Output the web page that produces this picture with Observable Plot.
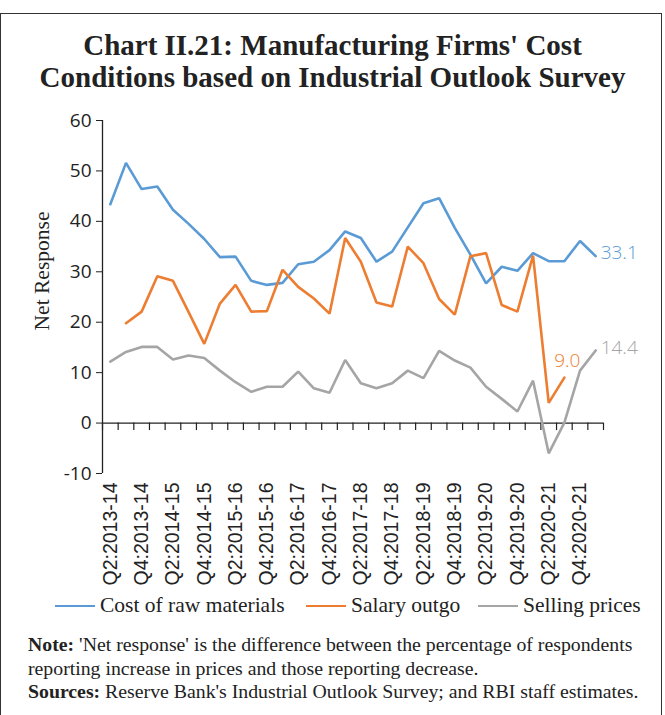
<!DOCTYPE html>
<html>
<head>
<meta charset="utf-8">
<script src="https://cdn.jsdelivr.net/npm/d3@7"></script>
<script src="https://cdn.jsdelivr.net/npm/@observablehq/plot@0.6"></script>
<style>
  html, body { margin: 0; padding: 0; background: #fff; }
  #wrap { position: relative; width: 665px; height: 715px; overflow: hidden; }
  #frame { position: absolute; left: 0; top: 13px; width: 662px; height: 760px; border: 1px solid #333; box-sizing: border-box; }
  #title { position: absolute; left: 0; top: 29px; width: 665px; text-align: center; font-family: "Liberation Serif", serif; font-weight: bold; font-size: 29px; line-height: 32px; color: #222; }
  #chart { position: absolute; left: 0; top: 100px; }
  #legend { position: absolute; top: 593px; left: 0; width: 665px; height: 24px; font-family: "Liberation Serif", serif; font-size: 21.5px; color: #222; }
  .li { position: absolute; top: 0; white-space: nowrap; line-height: 24px; }
  .sw { display: inline-block; width: 40px; height: 2.5px; vertical-align: middle; margin-right: 5px; position: relative; top: -1px; }
  #note { position: absolute; left: 28px; top: 633px; width: 635px; font-family: "Liberation Serif", serif; font-size: 19.8px; line-height: 23.5px; color: #222; white-space: nowrap; }
</style>
</head>
<body>
<div id="wrap">
  <div id="frame"></div>
  <div id="title">Chart II.21: Manufacturing Firms' Cost<br>Conditions based on Industrial Outlook Survey</div>
  <div id="chart"></div>
  <div id="legend"></div>
  <div id="note"><b>Note:</b> 'Net response' is the difference between the percentage of respondents<br>reporting increase in prices and those reporting decrease.<br><b>Sources:</b> Reserve Bank's Industrial Outlook Survey; and RBI staff estimates.</div>
</div>
<script>
const quarters = [
  "Q2:2013-14","Q3:2013-14","Q4:2013-14","Q1:2014-15","Q2:2014-15","Q3:2014-15","Q4:2014-15","Q1:2015-16",
  "Q2:2015-16","Q3:2015-16","Q4:2015-16","Q1:2016-17","Q2:2016-17","Q3:2016-17","Q4:2016-17","Q1:2017-18",
  "Q2:2017-18","Q3:2017-18","Q4:2017-18","Q1:2018-19","Q2:2018-19","Q3:2018-19","Q4:2018-19","Q1:2019-20",
  "Q2:2019-20","Q3:2019-20","Q4:2019-20","Q1:2020-21","Q2:2020-21","Q3:2020-21","Q4:2020-21","Q1:2021-22"
];
const tickLabels = [
  "Q2:2013-14","Q4:2013-14","Q2:2014-15","Q4:2014-15","Q2:2015-16","Q4:2015-16","Q2:2016-17","Q4:2016-17",
  "Q2:2017-18","Q4:2017-18","Q2:2018-19","Q4:2018-19","Q2:2019-20","Q4:2019-20","Q2:2020-21","Q4:2020-21"
];
const seriesNames = ["Cost of raw materials", "Salary outgo", "Selling prices"];
const seriesColors = ["#5B9BD5", "#ED7D31", "#A5A5A5"];
const rawMaterials = [43.4, 51.6, 46.4, 46.9, 42.3, 39.5, 36.5, 32.9, 33.0, 28.2, 27.4, 27.8, 31.5, 32.0, 34.3, 38.0,
  36.7, 32.0, 34.0, 38.8, 43.6, 44.6, 38.7, 33.4, 27.7, 31.0, 30.2, 33.7, 32.1, 32.1, 36.1, 33.1];
const salaryOutgo = [null, 19.8, 22.1, 29.1, 28.2, 22.0, 15.7, 23.7, 27.4, 22.1, 22.2, 30.4, 27.0, 24.7, 21.7, 36.7,
  32.0, 23.9, 23.1, 35.0, 31.7, 24.6, 21.5, 33.1, 33.7, 23.4, 22.1, 33.2, 4.0, 9.0, null, null];
const sellingPrices = [12.2, 14.1, 15.1, 15.1, 12.6, 13.4, 12.9, 10.4, 8.1, 6.2, 7.2, 7.2, 10.2, 6.9, 6.0, 12.5,
  7.9, 6.9, 7.9, 10.4, 8.9, 14.3, 12.4, 11.0, 7.2, 4.8, 2.3, 8.4, -6.0, 0.1, 10.4, 14.4];
const endLabels = ["33.1", "9.0", "14.4"];
const yTicks = [-10, 0, 10, 20, 30, 40, 50, 60];

const seriesValues = [rawMaterials, salaryOutgo, sellingPrices];
const rows = [];
seriesNames.forEach((s, k) => seriesValues[k].forEach((v, i) => rows.push({series: s, i, value: v})));
const lastPts = seriesNames.map((s, k) => {
  const vals = seriesValues[k];
  let i = vals.length - 1;
  while (vals[i] == null) i--;
  return {series: s, i, value: vals[i], label: endLabels[k]};
});
const tickIdx = tickLabels.map(t => quarters.indexOf(t));
const boundaries = d3.range(quarters.length + 1).map(b => b - 0.5);
const xDomain = [-0.5, quarters.length - 0.5];

const chart = Plot.plot({
  width: 665,
  height: 495,
  marginTop: 20,
  marginBottom: 122,
  marginLeft: 102,
  marginRight: 62,
  x: {type: "linear", domain: xDomain},
  y: {domain: [-10, 60]},
  color: {domain: seriesNames, range: seriesColors},
  marks: [
    Plot.axisY({ticks: yTicks, tickFormat: d => String(d), tickSize: 6, tickPadding: 5, fontSize: 19, fontFamily: "Open Sans", label: null, stroke: "#222", color: "#222"}),
    Plot.ruleX([xDomain[0]], {y1: -10, y2: 60, stroke: "#222", strokeWidth: 1.3}),
    Plot.ruleY([0], {stroke: "#222", strokeWidth: 1.3}),
    Plot.ruleX(boundaries, {x: d => d, y1: 0, y2: 0, insetBottom: -7.5, stroke: "#222", strokeWidth: 1.2}),
    Plot.axisX({ticks: tickIdx, tickFormat: i => quarters[i], tickRotate: -90, tickSize: 0, tickPadding: 9,
      fontSize: 19.5, fontFamily: "Liberation Sans", label: null, color: "#222"}),
    Plot.text(["Net Response"], {frameAnchor: "left", textAnchor: "middle", dx: -60, dy: -26, rotate: -90, fontSize: 21.5,
      fontFamily: "Liberation Serif", fill: "#222"}),
    Plot.line(rows, {x: "i", y: "value", stroke: "series", z: "series", strokeWidth: 2.6, strokeLinejoin: "miter"}),
    Plot.text(lastPts.filter(d => d.series !== "Salary outgo"), {x: "i", y: "value", text: "label", fill: "series",
      textAnchor: "start", dx: 5, dy: -3, fontSize: 19, fontFamily: "Open Sans", fontWeight: 300}),
    Plot.text(lastPts.filter(d => d.series === "Salary outgo"), {x: "i", y: "value", text: "label", fill: "series",
      textAnchor: "middle", dx: 3, dy: -17, fontSize: 19, fontFamily: "Open Sans", fontWeight: 300})
  ]
});
document.getElementById("chart").appendChild(chart);

const legend = document.getElementById("legend");
const legendLeft = [55, 306, 478];
seriesNames.forEach((s, k) => {
  const el = document.createElement("div");
  el.className = "li";
  el.style.left = legendLeft[k] + "px";
  el.innerHTML = `<span class="sw" style="background:${seriesColors[k]}"></span>${s}`;
  legend.appendChild(el);
});
</script>
</body>
</html>
